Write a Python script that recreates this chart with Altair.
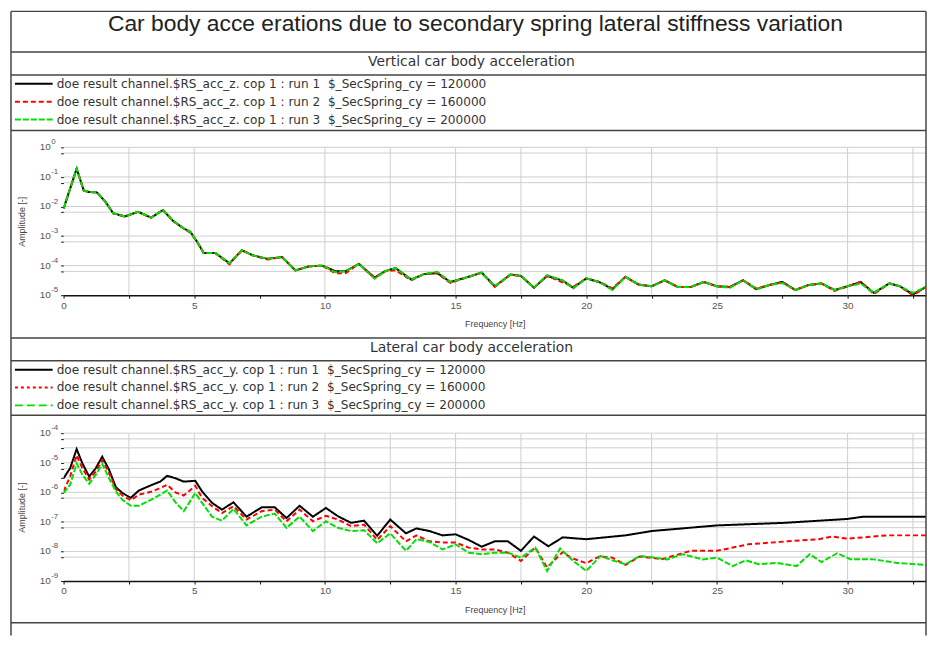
import altair as alt
import pandas as pd

FONT = "Liberation Sans"
FONT2 = "DejaVu Sans"

MAIN_TITLE = "Car body acce erations due to secondary spring lateral stiffness variation"
HEADER_Z = "Vertical car body acceleration"
HEADER_Y = "Lateral car body acceleration"
X_TITLE = "Frequency [Hz]"
Y_TITLE = "Amplitude [-]"
RUNS = ["run 1", "run 2", "run 3"]
RUN_COLORS = ["#000000", "#ff0000", "#00e000"]
LEGEND_Z = [
    "doe result channel.$RS_acc_z. cop 1 : run 1\u00a0 $_SecSpring_cy = 120000",
    "doe result channel.$RS_acc_z. cop 1 : run 2\u00a0 $_SecSpring_cy = 160000",
    "doe result channel.$RS_acc_z. cop 1 : run 3\u00a0 $_SecSpring_cy = 200000",
]
LEGEND_Y = [
    "doe result channel.$RS_acc_y. cop 1 : run 1\u00a0 $_SecSpring_cy = 120000",
    "doe result channel.$RS_acc_y. cop 1 : run 2\u00a0 $_SecSpring_cy = 160000",
    "doe result channel.$RS_acc_y. cop 1 : run 3\u00a0 $_SecSpring_cy = 200000",
]

# axis ticks / labels
X_DOMAIN = [0, 33]
X_TICKS = [0, 2.5, 5, 7.5, 10, 12.5, 15, 17.5, 20, 22.5, 25, 27.5, 30, 32.5]
X_GRID = [2.5, 5, 10, 12.5, 15, 17.5, 20, 22.5, 25, 30, 32.5]
Y_DEC_Z = [1, 0.1, 0.01, 0.001, 1e-4, 1e-5]
Y_EXP_Z = ["0", "-1", "-2", "-3", "-4", "-5"]
Y_MINOR_Z = [0.64, 0.064, 0.0064, 6.4e-4, 6.4e-5]
Y_DEC_Y = [1e-4, 1e-5, 1e-6, 1e-7, 1e-8, 1e-9]
Y_EXP_Y = ["-4", "-5", "-6", "-7", "-8", "-9"]
Y_MINOR_Y = [6.4e-5, 3.2e-5, 6.4e-6, 3.2e-6, 6.4e-7, 6.4e-8, 6.4e-9]

# ---- vertical acceleration (z) ----
FREQ_Z = [0, 0.5, 0.77, 0.96, 1.27, 1.6, 1.9, 2.35, 2.85, 3.35,
          3.8, 4.2, 4.6, 4.85, 5.1, 5.36, 5.8, 6.35, 6.82, 7.26,
          7.8, 8.36, 8.87, 9.4, 9.9, 10.4, 10.8, 11.3, 11.9, 12.3,
          12.7, 13.3, 13.8, 14.3, 14.8, 15.5, 16.0, 16.5, 17.1, 17.5,
          18.0, 18.5, 19.1, 19.5, 20.0, 20.5, 21.0, 21.5, 22.0, 22.5,
          23.0, 23.5, 24.0, 24.5, 25.0, 25.5, 26.0, 26.5, 27.0, 27.5,
          28.0, 28.5, 29.0, 29.5, 30.0, 30.5, 31.0, 31.6, 32.0, 32.5,
          33.0]
VZ_RUN1 = [8.5e-3, 0.19, 3.5e-2, 3.1e-2, 3.0e-2, 1.45e-2, 5.9e-3, 4.6e-3, 6.6e-3, 4.2e-3,
           7.6e-3, 3.2e-3, 1.8e-3, 1.4e-3, 6.6e-4, 2.7e-4, 2.7e-4, 1.2e-4, 3.3e-4, 2.2e-4,
           1.7e-4, 1.95e-4, 6.9e-5, 9.5e-5, 1.0e-4, 6.5e-5, 6.5e-5, 1.15e-4, 3.9e-5, 6.5e-5,
           8.3e-5, 3.4e-5, 5.2e-5, 5.6e-5, 2.8e-5, 4.2e-5, 5.8e-5, 2.0e-5, 5.0e-5, 4.5e-5,
           1.8e-5, 4.5e-5, 3.1e-5, 1.8e-5, 3.7e-5, 2.8e-5, 1.6e-5, 4.2e-5, 2.3e-5, 2.0e-5,
           3.2e-5, 1.9e-5, 1.9e-5, 2.8e-5, 2.0e-5, 1.9e-5, 3.2e-5, 1.6e-5, 2.2e-5, 2.8e-5,
           1.5e-5, 2.2e-5, 2.5e-5, 1.5e-5, 2.0e-5, 2.8e-5, 1.2e-5, 2.5e-5, 2.0e-5, 1.07e-5,
           1.9e-5]
VZ_RUN2 = [8.5e-3, 0.19, 3.5e-2, 3.1e-2, 3.0e-2, 1.45e-2, 5.9e-3, 4.6e-3, 6.6e-3, 4.2e-3,
           7.6e-3, 3.2e-3, 1.8e-3, 1.3e-3, 6.6e-4, 2.7e-4, 2.7e-4, 1.1e-4, 3.3e-4, 2.2e-4,
           1.6e-4, 1.95e-4, 6.9e-5, 9.5e-5, 1.0e-4, 5.5e-5, 5.6e-5, 1.15e-4, 3.9e-5, 6.5e-5,
           7.0e-5, 3.2e-5, 5.2e-5, 5.6e-5, 2.6e-5, 4.2e-5, 5.8e-5, 1.9e-5, 5.0e-5, 4.5e-5,
           1.8e-5, 4.5e-5, 2.7e-5, 1.9e-5, 3.7e-5, 2.8e-5, 1.7e-5, 4.2e-5, 2.3e-5, 2.0e-5,
           3.2e-5, 1.9e-5, 1.9e-5, 2.8e-5, 2.0e-5, 1.9e-5, 3.2e-5, 1.7e-5, 2.2e-5, 2.8e-5,
           1.5e-5, 2.2e-5, 2.5e-5, 1.4e-5, 2.0e-5, 2.8e-5, 1.1e-5, 2.5e-5, 2.0e-5, 1.0e-5,
           1.9e-5]
VZ_RUN3 = [8.5e-3, 0.19, 3.5e-2, 3.1e-2, 3.0e-2, 1.45e-2, 5.9e-3, 4.6e-3, 6.6e-3, 4.2e-3,
           7.6e-3, 3.2e-3, 1.8e-3, 1.4e-3, 6.6e-4, 2.7e-4, 2.7e-4, 1.2e-4, 3.3e-4, 2.2e-4,
           1.7e-4, 1.95e-4, 6.9e-5, 9.5e-5, 1.0e-4, 6.0e-5, 6.5e-5, 1.15e-4, 3.6e-5, 6.5e-5,
           8.3e-5, 3.4e-5, 5.2e-5, 6.2e-5, 2.8e-5, 4.2e-5, 5.8e-5, 2.0e-5, 5.0e-5, 4.5e-5,
           1.8e-5, 4.8e-5, 3.1e-5, 1.7e-5, 3.7e-5, 2.8e-5, 1.5e-5, 4.2e-5, 2.3e-5, 2.0e-5,
           3.2e-5, 1.9e-5, 1.9e-5, 2.8e-5, 2.0e-5, 1.8e-5, 3.2e-5, 1.6e-5, 2.2e-5, 2.6e-5,
           1.5e-5, 2.2e-5, 2.5e-5, 1.5e-5, 2.0e-5, 2.5e-5, 1.2e-5, 2.5e-5, 2.0e-5, 1.2e-5,
           1.9e-5]

# ---- lateral acceleration (y) ----
FREQ_Y_LOW = [0, 0.25, 0.5, 0.72, 0.98, 1.23, 1.48, 1.74, 2.0, 2.25,
              2.57, 2.88, 3.39, 3.7, 3.96, 4.28, 4.6, 5.04, 5.3, 5.68,
              6.06, 6.5, 7.0, 7.58, 8.08, 8.53, 9.03, 9.54, 10.04, 10.5,
              11.0, 11.5, 12.0, 12.5, 13.1, 13.5, 14.0, 14.5, 15.0]
FREQ_Y_RUN1 = FREQ_Y_LOW + [15.5, 16.0, 16.5, 17.0, 17.5, 18.0, 18.55, 19.1, 20.0, 21.5,
                            22.5, 25.0, 27.6, 30.0, 30.6, 33.0]
VY_RUN1 = [3.0e-6, 6.5e-6, 2.9e-5, 9.5e-6, 3.4e-6, 6.5e-6, 1.6e-5, 5.8e-6, 1.5e-6, 9.5e-7,
           6.5e-7, 1.15e-6, 1.8e-6, 2.3e-6, 3.6e-6, 3.0e-6, 2.3e-6, 2.45e-6, 1.07e-6, 4.4e-7,
           2.6e-7, 4.6e-7, 1.5e-7, 3.1e-7, 3.1e-7, 1.35e-7, 3.5e-7, 1.5e-7, 2.95e-7, 1.55e-7,
           9.3e-8, 1.1e-7, 3.4e-8, 1.2e-7, 4.1e-8, 6.0e-8, 4.9e-8, 3.5e-8, 3.8e-8,
           2.45e-8, 1.45e-8, 2.2e-8, 2.2e-8, 1.05e-8, 3.2e-8, 1.5e-8, 3.0e-8, 2.6e-8, 3.5e-8,
           4.9e-8, 7.6e-8, 9.3e-8, 1.26e-7, 1.5e-7, 1.5e-7]
FREQ_Y_RUN2 = FREQ_Y_LOW + [15.5, 16.0, 16.5, 17.0, 17.5, 18.05, 18.5, 19.1, 19.4, 20.0,
                            20.5, 21.0, 21.5, 22.05, 22.9, 24.0, 25.0, 26.2, 27.7, 28.9,
                            29.4, 30.0, 31.5, 33.0]
VY_RUN2 = [1.07e-6, 3.4e-6, 1.8e-5, 6.5e-6, 2.7e-6, 5.0e-6, 1.23e-5, 4.5e-6, 1.3e-6, 7.8e-7,
           5.4e-7, 8.3e-7, 1.07e-6, 1.4e-6, 1.8e-6, 1.0e-6, 7.8e-7, 1.66e-6, 6.5e-7, 3.4e-7,
           2.0e-7, 3.4e-7, 1.2e-7, 2.3e-7, 2.6e-7, 1.05e-7, 2.6e-7, 1.05e-7, 1.6e-7, 1.2e-7,
           7.2e-8, 8.1e-8, 2.45e-8, 7.2e-8, 2.2e-8, 3.5e-8, 2.2e-8, 2.0e-8, 2.0e-8,
           1.35e-8, 1.17e-8, 1.17e-8, 9.1e-9, 4.8e-9, 1.35e-8, 2.9e-9, 9.5e-9, 6.2e-9, 4.0e-9,
           6.8e-9, 6.2e-9, 3.5e-9, 6.8e-9, 5.5e-9, 1.05e-8, 1.05e-8, 1.74e-8, 2.2e-8, 2.6e-8,
           3.2e-8, 2.7e-8, 3.5e-8, 3.5e-8]
FREQ_Y_RUN3 = FREQ_Y_LOW + [15.5, 16.0, 16.5, 17.0, 17.5, 18.05, 18.5, 19.0, 19.5, 20.0,
                            20.55, 21.0, 21.5, 22.05, 22.6, 23.1, 23.7, 24.45, 25.0, 25.6,
                            26.1, 26.6, 27.3, 28.05, 28.55, 29.0, 29.6, 30.1, 31.0, 31.9,
                            33.0]
VY_RUN3 = [9.5e-7, 1.8e-6, 9.5e-6, 3.9e-6, 1.95e-6, 3.9e-6, 9.1e-6, 3.0e-6, 1.07e-6, 5.6e-7,
           3.5e-7, 3.5e-7, 5.9e-7, 8.3e-7, 1.15e-6, 4.6e-7, 2.3e-7, 9.5e-7, 4.4e-7, 1.5e-7,
           1.1e-7, 2.75e-7, 7.6e-8, 1.5e-7, 1.9e-7, 6.3e-8, 1.5e-7, 4.9e-8, 1.05e-7, 6.3e-8,
           4.9e-8, 5.2e-8, 1.9e-8, 4.1e-8, 1.05e-8, 2.6e-8, 2.1e-8, 1.17e-8, 1.74e-8,
           9.1e-9, 8.1e-9, 9.1e-9, 9.1e-9, 6.2e-9, 1.35e-8, 2.2e-9, 1.26e-8, 4.8e-9, 2.2e-9,
           7.1e-9, 5.0e-9, 3.7e-9, 7.1e-9, 6.2e-9, 5.4e-9, 8.1e-9, 5.4e-9, 6.2e-9, 3.2e-9,
           5.0e-9, 3.7e-9, 4.1e-9, 3.2e-9, 8.1e-9, 4.4e-9, 8.7e-9, 5.5e-9, 5.4e-9, 4.1e-9,
           3.5e-9]

W, H = 869, 149
FRAME = "#444444"
ONE = alt.Data(values=[{}])


def hline(y, x1=-53, x2=W):
    return alt.Chart(ONE).mark_rule(color=FRAME, strokeWidth=1.5).encode(
        x=alt.value(x1), x2=alt.value(x2), y=alt.value(y))


def vline(x, y1, y2):
    return alt.Chart(ONE).mark_rule(color=FRAME, strokeWidth=1.5).encode(
        x=alt.value(x), y=alt.value(y1), y2=alt.value(y2))


def panel(series, domain, decades, exps, minors, dashes, header, legend_texts,
          frame_h, frame_v, show_title):
    rows = []
    for run, (fs, vs) in zip(RUNS, series):
        for i, (f, v) in enumerate(zip(fs, vs)):
            rows.append({"run": run, "f": f, "v": v, "i": i})
    df = pd.DataFrame(rows)

    xs = alt.Scale(domain=X_DOMAIN, nice=False, zero=False)
    ys = alt.Scale(type="log", domain=domain, nice=False)

    x_axis = alt.Axis(
        values=X_TICKS, labelExpr="datum.value % 5 == 0 ? datum.label : ''",
        grid=False, domainColor="#111111", domainWidth=1.5, tickColor="#111111",
        tickSize=3, labelFont=FONT, labelFontSize=10, labelColor="#555555",
        labelPadding=2, labelFlush=False, labelOverlap=False,
        title=X_TITLE, titleFont=FONT, titleFontSize=9, titleFontWeight="normal",
        titleColor="#444444", titleX=W / 2, titleY=29, titleAlign="center",
        titleBaseline="middle")
    y_axis = alt.Axis(
        values=decades + minors, labels=False,
        grid=False, domain=False, tickColor="#111111", tickSize=3,
        title=Y_TITLE, titleFont=FONT, titleFontSize=9, titleFontWeight="normal",
        titleColor="#444444", titleX=-42, titleY=H / 2, titleAngle=270,
        titleAlign="center", titleBaseline="middle")

    vgrid = alt.Chart(pd.DataFrame({"f": X_GRID})).mark_rule(
        color="#cfcfcf", strokeWidth=1).encode(x=alt.X("f:Q", scale=xs, axis=x_axis))
    hgrid = alt.Chart(pd.DataFrame({"v": decades[:-1] + minors})).mark_rule(
        color="#cfcfcf", strokeWidth=1).encode(y=alt.Y("v:Q", scale=ys, axis=y_axis))

    lab_df = pd.DataFrame({"v": decades, "e": exps})
    base_lab = alt.Chart(lab_df).mark_text(
        text="10", font=FONT, fontSize=10, color="#555555", align="right",
        baseline="middle").encode(
        y=alt.Y("v:Q", scale=ys, axis=y_axis), x=alt.value(-13))
    exp_lab = alt.Chart(lab_df).mark_text(
        font=FONT, fontSize=8, color="#555555", align="left",
        baseline="middle", dy=-5).encode(
        y=alt.Y("v:Q", scale=ys, axis=y_axis), x=alt.value(-12.5), text="e:N")

    lines = alt.Chart(df).mark_line(strokeWidth=2, clip=True).encode(
        x=alt.X("f:Q", scale=xs, axis=x_axis),
        y=alt.Y("v:Q", scale=ys, axis=y_axis),
        color=alt.Color("run:N", scale=alt.Scale(domain=RUNS, range=RUN_COLORS), legend=None),
        strokeDash=alt.StrokeDash("run:N", scale=alt.Scale(domain=RUNS, range=dashes), legend=None),
        order="i:Q",
    )

    deco = []
    if show_title:
        deco.append(alt.Chart(ONE).mark_text(
            text=MAIN_TITLE, font=FONT, fontSize=23, color="#222222",
            align="center", baseline="middle").encode(
            x=alt.value(415), y=alt.value(-124)))
    deco.append(alt.Chart(ONE).mark_text(
        text=header, font=FONT2, fontSize=14, color="#333333",
        align="center", baseline="middle").encode(
        x=alt.value(411), y=alt.value(-86)))
    for k, (txt, col, dsh) in enumerate(zip(legend_texts, RUN_COLORS, dashes)):
        yrow = -64 + 18 * k
        deco.append(alt.Chart(ONE).mark_rule(color=col, strokeWidth=2, strokeDash=dsh).encode(
            x=alt.value(-49), x2=alt.value(-11), y=alt.value(yrow)))
        deco.append(alt.Chart(ONE).mark_text(
            text=txt, font=FONT2, fontSize=12.2, color="#333333",
            align="left", baseline="middle").encode(x=alt.value(-7), y=alt.value(yrow)))
    for y in frame_h:
        deco.append(hline(y))
    deco.append(vline(-53, frame_v[0], frame_v[1]))
    deco.append(vline(W, frame_v[0], frame_v[1]))

    return alt.layer(vgrid, hgrid, lines, base_lab, exp_lab, *deco).properties(width=W, height=H)


p1 = panel([(FREQ_Z, VZ_RUN1), (FREQ_Z, VZ_RUN2), (FREQ_Z, VZ_RUN3)],
           [1e-5, 1], Y_DEC_Z, Y_EXP_Z, Y_MINOR_Z,
           [[1, 0], [5, 3], [6, 2]], HEADER_Z, LEGEND_Z,
           [-137, -96, -73, -17], (-137, 192), True)
p2 = panel([(FREQ_Y_RUN1, VY_RUN1), (FREQ_Y_RUN2, VY_RUN2), (FREQ_Y_RUN3, VY_RUN3)],
           [1e-9, 1e-4], Y_DEC_Y, Y_EXP_Y, Y_MINOR_Y,
           [[1, 0], [3, 3], [8, 4]], HEADER_Y, LEGEND_Y,
           [-96, -73, -18, 191], (-96, 204), False)

chart = alt.vconcat(p1, p2, spacing=139, bounds="flush").properties(
    padding={"left": 2, "top": 0, "right": 0, "bottom": 0}
).configure_view(strokeWidth=0)

chart.save("out.html", embed_options={"renderer": "svg", "actions": False})
